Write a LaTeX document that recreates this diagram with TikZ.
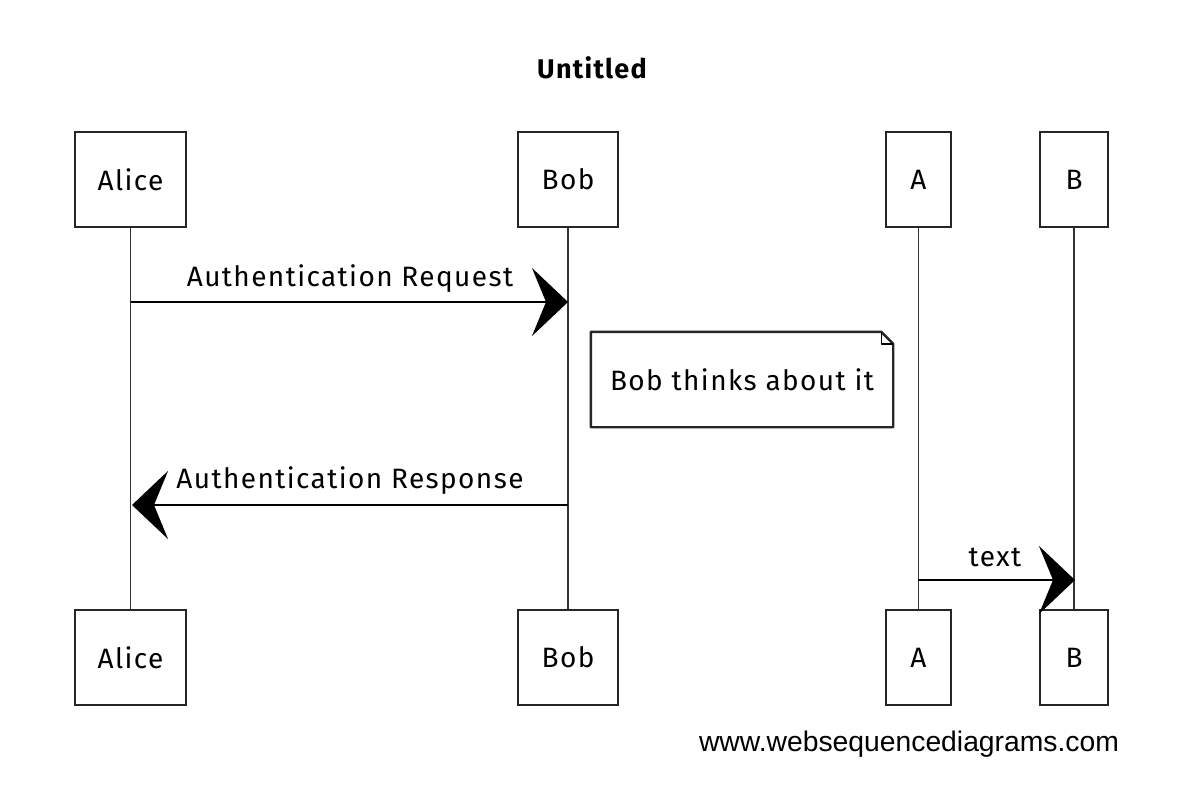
\documentclass[tikz,border=0pt]{standalone}
\usepackage{fontspec}
\setmainfont{Liberation Sans}
\newfontfamily\hand[LetterSpace=5]{Fira Sans}
\usetikzlibrary{arrows.meta,calc}
\begin{document}
\begin{tikzpicture}[x=1pt,y=-1pt,
  actor/.style={draw=black!85,line width=2.6pt,minimum height=95pt,inner sep=0pt,font=\hand\fontsize{28}{32}\selectfont},
  life/.style={draw=black!80,line width=1.4pt},
  msg/.style={draw=black,line width=2.4pt,-{Stealth[length=36pt,width=68pt,inset=14pt]}},
  lbl/.style={font=\hand\fontsize{28}{32}\selectfont,inner sep=0pt},
  notebox/.style={draw=black!85,line width=2.4pt}]
\useasboundingbox (0,0) rectangle (1194,806);
\node[font=\hand\bfseries\fontsize{27}{30}\selectfont] (title) at (592,68) {Untitled};
% actors top
\node[actor,minimum width=111pt] (alice1) at (130.5,179.5) {Alice};
\node[actor,minimum width=100pt] (bob1) at (568,179.5) {Bob};
\node[actor,minimum width=65pt] (a1) at (918.5,179.5) {A};
\node[actor,minimum width=68pt] (b1) at (1074,179.5) {B};
% actors bottom
\node[actor,minimum width=111pt] (alice2) at (130.5,657.5) {Alice};
\node[actor,minimum width=100pt] (bob2) at (568,657.5) {Bob};
\node[actor,minimum width=65pt] (a2) at (918.5,657.5) {A};
\node[actor,minimum width=68pt] (b2) at (1074,657.5) {B};
% lifelines
\draw[life] (alice1.south) -- (alice2.north);
\draw[life] (bob1.south) -- (bob2.north);
\draw[life] (a1.south) -- (a2.north);
\draw[life] (b1.south) -- (b2.north);
% message points
\coordinate (m1a) at (131,302);
\coordinate (m1b) at (568,302);
\coordinate (m2b) at (568,505);
\coordinate (m2a) at (132,505);
\coordinate (m3a) at (918,580);
\coordinate (m3b) at (1075,580);
\draw[msg] (m1a) -- (m1b);
\node[lbl] (l1) at (350,279) {Authentication Request};
\draw[msg] (m2b) -- (m2a);
\node[lbl] (l2) at (350,481) {Authentication Response};
\draw[msg] (m3a) -- (m3b);
\node[lbl] (l3) at (995,557) {text};
% note
\node[font=\hand\fontsize{28}{32}\selectfont,minimum width=302pt,minimum height=95pt,inner sep=0pt] (note) at (742,379.5) {Bob thinks about it};
\draw[notebox,line join=round] (note.north west) -- ($(note.north east)+(-12,0)$) -- ($(note.north east)+(0,12)$) -- (note.south east) -- (note.south west) -- cycle;
\draw[line width=1.4pt,line join=round] ($(note.north east)+(-12,0)$) -- ($(note.north east)+(-12,12)$) -- ($(note.north east)+(0,12)$);
\node[font=\fontsize{28.3}{32}\selectfont,inner sep=0pt] (web) at (909,744) {www.websequencediagrams.com};
\end{tikzpicture}
\end{document}
